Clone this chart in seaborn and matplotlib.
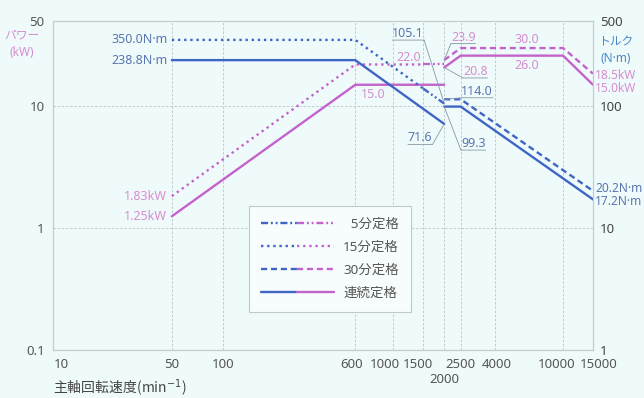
import matplotlib
matplotlib.use("Agg")
import matplotlib.pyplot as plt
import matplotlib.transforms as mtransforms
from matplotlib.lines import Line2D
from matplotlib.legend_handler import HandlerTuple
from matplotlib.ticker import NullLocator
import seaborn as sns

# --- data (spindle speed min^-1, power kW, torque N·m) ---
speed_cont_low = [50, 600, 2000]
power_cont_low = [1.25, 15.0, 15.0]
torque_cont_low = [238.8, 238.8, 71.6]
speed_cont_high_p = [2000, 2500, 10000, 15000]
power_cont_high = [20.8, 26.0, 26.0, 15.0]
speed_cont_high_t = [2000, 2500, 15000]
torque_cont_high = [99.3, 99.3, 17.2]

speed_15 = [50, 600, 1500]
power_15 = [1.83, 22.0, 22.0]
torque_15 = [350.0, 350.0, 140.1]

speed_5 = [1500, 2000]
power_5 = [22.0, 22.0]
torque_5 = [140.1, 105.1]

speed_30_p = [2000, 2500, 10000, 15000]
power_30 = [23.9, 30.0, 30.0, 18.5]
speed_30_t = [2000, 2500, 15000]
torque_30 = [114.0, 114.0, 20.2]

x_ticks = [10, 50, 100, 600, 1000, 1500, 2000, 2500, 4000, 10000, 15000]
x_tick_labels = ["10", "50", "100", "600", "1000", "1500", "2000", "2500", "4000", "10000", "15000"]
x_label_shift = [(8, 0), (0, 0), (0, 0), (-4, 0), (-8, 0), (-5, 0), (0, -15),
                 (0, 0), (1, 0), (-6, 0), (6, 0)]  # pixel nudges of tick labels
power_ticks = [0.1, 1, 10, 50]
torque_ticks = [1, 10, 100, 500]
legend_labels = ["\u20075分定格", "15分定格", "30分定格", "連続定格"]

# --- style ---
bg = "#effbfb"
blue = "#3f65c6"
magenta = "#c462cc"
blue_txt = "#5a76b0"
pink_txt = "#d68ecf"
lead = "#8896a4"
grid_c = "#b9c6c6"

sns.set_style("white")
plt.rcParams["font.family"] = ["Noto Sans", "Noto Sans CJK JP", "DejaVu Sans"]
cjk = ["Noto Sans CJK JP", "DejaVu Sans"]

ls_cont = "-"
ls_15 = (0, (1, 1.6))
ls_30 = (0, (2.6, 1.6))
ls_5 = (0, (3, 1.2, 0.8, 1.2, 0.8, 1.2))
lw = 1.7

fig = plt.figure(figsize=(6.44, 3.98), dpi=100, facecolor=bg)
ax = fig.add_axes([0.0823, 0.1206, 0.8385, 0.8266])
ax.set_facecolor(bg)
ax2 = ax.twinx()
for a in (ax, ax2):
    a.set_xscale("log")
    a.set_yscale("log")

segments_power = [
    (speed_cont_low, power_cont_low, ls_cont),
    (speed_cont_high_p, power_cont_high, ls_cont),
    (speed_15, power_15, ls_15),
    (speed_5, power_5, ls_5),
    (speed_30_p, power_30, ls_30),
]
segments_torque = [
    (speed_cont_low, torque_cont_low, ls_cont),
    (speed_cont_high_t, torque_cont_high, ls_cont),
    (speed_15, torque_15, ls_15),
    (speed_5, torque_5, ls_5),
    (speed_30_t, torque_30, ls_30),
]
for xs, ys, ls in segments_power:
    sns.lineplot(x=xs, y=ys, ax=ax, color=magenta, linestyle=ls, lw=lw,
                 sort=False, estimator=None)
for xs, ys, ls in segments_torque:
    sns.lineplot(x=xs, y=ys, ax=ax2, color=blue, linestyle=ls, lw=lw,
                 sort=False, estimator=None)

ax.set_xlim(10, 15000)
ax.set_ylim(0.1, 50)
ax2.set_ylim(1, 500)

ax.set_xticks(x_ticks)
ax.set_xticklabels(x_tick_labels)
ax.xaxis.set_minor_locator(NullLocator())
ax.set_yticks(power_ticks)
ax.set_yticklabels(["0.1", "1", "10", "50"])
ax.yaxis.set_minor_locator(NullLocator())
ax2.set_yticks(torque_ticks)
ax2.set_yticklabels(["1", "10", "100", "500"])
ax2.yaxis.set_minor_locator(NullLocator())
ax.tick_params(axis="x", length=0, pad=6, labelsize=9.5, labelcolor="#555555")
ax.tick_params(axis="y", length=0, pad=6, labelsize=9.5, labelcolor="#555555")
ax2.tick_params(axis="y", length=0, pad=5, labelsize=9.5, labelcolor="#444444")
ax.set_xlabel("")
ax.set_ylabel("")
ax2.set_ylabel("")
for lab, (dx, dy) in zip(ax.get_xticklabels(), x_label_shift):
    lab.set_transform(lab.get_transform() +
                      mtransforms.ScaledTranslation(dx / 100, dy / 100, fig.dpi_scale_trans))

ax.grid(True, which="major", color=grid_c, lw=0.6, ls=(0, (3, 2)))
for a in (ax, ax2):
    for s in a.spines.values():
        s.set_color("#c4cccc")
        s.set_linewidth(0.8)


def place(axis, dx, dy):
    return mtransforms.offset_copy(axis.transData, fig=fig, x=dx, y=dy, units="dots")


def label(axis, x, y, text, dx, dy, color, ha="center", size=9):
    return axis.text(x, y, text, transform=place(axis, dx, dy), ha=ha,
                     va="center", color=color, fontsize=size)


def callout(axis, x, y, text, dx, dy, color, relx):
    t = label(axis, x, y, text, dx, dy, color)
    axis.annotate("", xy=(x, y), xycoords="data", xytext=(relx, 0), textcoords=t,
                  arrowprops=dict(arrowstyle="-", color=lead, lw=0.6,
                                  shrinkA=0, shrinkB=0))
    axis.annotate("", xy=(1, 0), xycoords=t, xytext=(0, 0), textcoords=t,
                  arrowprops=dict(arrowstyle="-", color=lead, lw=0.6,
                                  shrinkA=0, shrinkB=0))


# left-end labels
label(ax2, 50, 350.0, "350.0N·m", -4, 0, blue_txt, ha="right")
label(ax2, 50, 238.8, "238.8N·m", -4, 0, blue_txt, ha="right")
label(ax, 50, 1.83, "1.83kW", -5, 0, pink_txt, ha="right")
label(ax, 50, 1.25, "1.25kW", -5, 0, pink_txt, ha="right")

# right-end labels
label(ax, 15000, 18.5, "18.5kW", 2, -2, pink_txt, ha="left", size=8.6)
label(ax, 15000, 15.0, "15.0kW", 2, -4, pink_txt, ha="left", size=8.6)
label(ax2, 15000, 20.2, "20.2N·m", 2, 2, blue_txt, ha="left", size=8.6)
label(ax2, 15000, 17.2, "17.2N·m", 2, -2, blue_txt, ha="left", size=8.6)

# plain values on plateaus
label(ax, 600, 15.0, "15.0", 18, -10, pink_txt)
label(ax, 600, 22.0, "22.0", 53, 7, pink_txt)
label(ax, 2500, 30.0, "30.0", 66, 9, pink_txt)
label(ax, 2500, 26.0, "26.0", 66, -10, pink_txt)

# underlined callouts at the gear change
callout(ax2, 2000, 105.1, "105.1", -36, 70, blue_txt, 1)
callout(ax2, 2000, 71.6, "71.6", -24, -14, blue_txt, 1)
callout(ax2, 2000, 99.3, "99.3", 29, -37, blue_txt, 0)
callout(ax2, 2000, 114.0, "114.0", 33, 8, blue_txt, 0)
callout(ax, 2000, 23.9, "23.9", 19, 23, pink_txt, 0)
callout(ax, 2000, 20.8, "20.8", 31, -4, pink_txt, 0)

# legend: blue half + magenta half per rating
handles = []
for ls in (ls_5, ls_15, ls_30, ls_cont):
    handles.append((Line2D([], [], color=blue, ls=ls, lw=lw),
                    Line2D([], [], color=magenta, ls=ls, lw=lw)))
leg = ax.legend(handles, legend_labels, handler_map={tuple: HandlerTuple(ndivide=None, pad=0)},
                loc="upper left", bbox_to_anchor=(0.350, 0.459), fontsize=9.7,
                handlelength=5.4, handletextpad=0.7, labelspacing=0.75,
                borderpad=0.9, frameon=True, fancybox=False, framealpha=1,
                facecolor="#f7fdfd", edgecolor="#c0c8c8")
leg.get_frame().set_linewidth(0.8)
for t in leg.get_texts():
    t.set_color("#555555")

# axis titles
fig.text(22 / 644, 1 - 35 / 398, "パワー", color=pink_txt, ha="center", va="center",
         fontsize=8.5, family=cjk)
fig.text(22 / 644, 1 - 52 / 398, "(kW)", color=pink_txt, ha="center", va="center", fontsize=8.5)
fig.text(616 / 644, 1 - 42 / 398, "トルク", color="#4a88c8", ha="center", va="center",
         fontsize=8.5, family=cjk)
fig.text(616 / 644, 1 - 58 / 398, "(N·m)", color="#4a88c8", ha="center", va="center", fontsize=8.5)
fig.text(53 / 644, 1 - 388 / 398, "主軸回転速度(min$^{-1}$)", color="#444444",
         ha="left", va="center", fontsize=10, family=cjk)

fig.savefig("out.png", dpi=100, facecolor=bg)
